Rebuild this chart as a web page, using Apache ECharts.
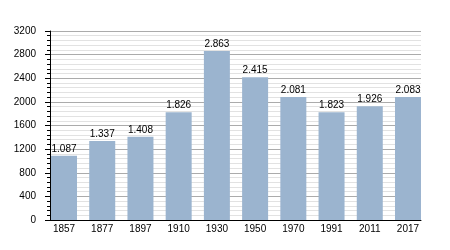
<!DOCTYPE html>
<html>
<head>
<meta charset="utf-8">
<script src="https://cdn.jsdelivr.net/npm/echarts@6/dist/echarts.min.js"></script>
<style>html,body{margin:0;padding:0;background:#fff;}#c{width:450px;height:250px;}</style>
</head>
<body>
<div id="c"></div>
<script>
const years = ['1857','1877','1897','1910','1930','1950','1970','1991','2011','2017'];
const population = [1087, 1337, 1408, 1826, 2863, 2415, 2081, 1823, 1926, 2083];
const yMin = 0, yMax = 3200, yInterval = 400;

const font = "'Liberation Sans', Arial, sans-serif";
function fmt(v) {
  return String(v).replace(/\B(?=(\d{3})+(?!\d))/g, '.');
}
const chart = echarts.init(document.getElementById('c'), null, {renderer: 'canvas'});
chart.setOption({
  animation: false,
  backgroundColor: '#fff',
  grid: [
    {left: 50, top: 31, width: 371, height: 189},
    {left: 44.9, top: 31, width: 382.2, height: 189}
  ],
  xAxis: [
    {gridIndex: 0, type: 'value', min: 0, max: 1,
     axisLine: {show: true, lineStyle: {color: '#000', width: 1}},
     axisTick: {show: false}, axisLabel: {show: false}, splitLine: {show: false}},
    {gridIndex: 1, type: 'category', data: years,
     axisLine: {show: false}, axisTick: {show: false},
     axisLabel: {color: '#000', fontSize: 10, fontFamily: font, margin: 4}}
  ],
  yAxis: [
    {gridIndex: 0, type: 'value', min: yMin, max: yMax, interval: yInterval,
     axisLine: {show: true, lineStyle: {color: '#000', width: 1}},
     axisTick: {show: true, length: 5, lineStyle: {color: '#000'}},
     minorTick: {show: true, splitNumber: 5, length: 3, lineStyle: {color: '#000'}},
     axisLabel: {color: '#000', fontSize: 10, fontFamily: font, margin: 14,
                 formatter: v => String(v)},
     splitLine: {show: true, lineStyle: {color: '#ababab', width: 1}},
     minorSplitLine: {show: true, lineStyle: {color: '#e2e2e2', width: 1}}},
    {gridIndex: 1, type: 'value', min: yMin, max: yMax, show: false}
  ],
  series: [{
    type: 'bar', xAxisIndex: 1, yAxisIndex: 1,
    data: population, barWidth: 26,
    itemStyle: {color: '#9bb4cf'},
    label: {show: true, position: 'top', distance: 2, color: '#000',
            fontSize: 10, fontFamily: font,
            formatter: p => fmt(p.value)}
  }]
});
</script>
</body>
</html>
